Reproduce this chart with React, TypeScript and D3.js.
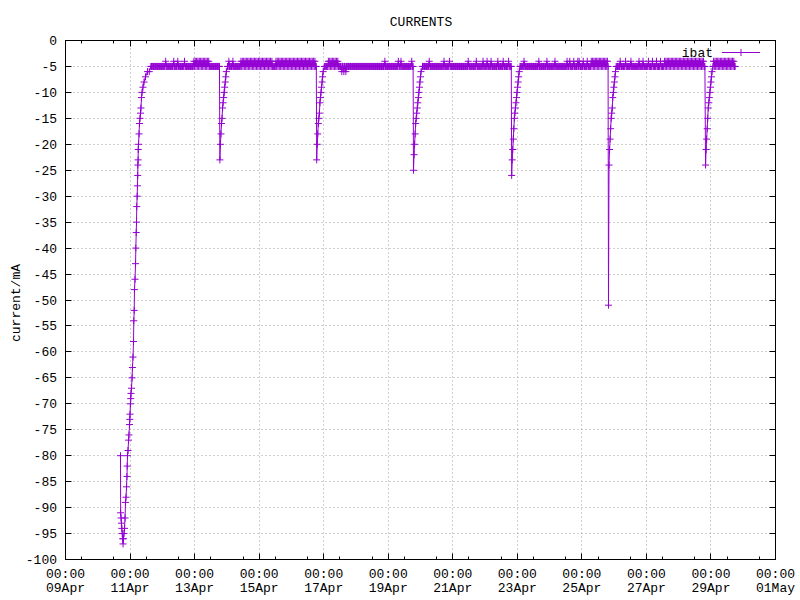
import React from "react";
import * as d3 from "d3";

// ---------- data ----------
const T0 = Date.UTC(2021, 3, 9); // 09Apr 00:00
const HOUR = 3600 * 1000;

// initial charge (hours since 09Apr 00:00, mA)
const chargeHours = [40.9, 41.0, 41.3, 41.6, 41.9, 42.2, 42.5, 42.8, 43.1, 43.5, 43.9, 44.3, 44.6, 45.0, 45.4, 45.7, 45.9, 46.1, 46.5, 46.9, 47.2, 47.6, 47.8, 48.0, 48.3, 48.5, 48.7, 49.1, 49.5, 49.8, 50.2, 50.6, 50.8, 51.1, 51.3, 51.7, 52.1, 52.3, 52.6, 52.8, 53.0, 53.3, 53.5, 53.7, 53.8, 54.0, 54.1, 54.3, 54.7, 55.0, 55.4, 55.8, 56.1, 56.5, 56.9, 57.6, 58.4, 59.5, 61.0, 62.3];
const chargeValues = [-80, -91, -92, -93, -94, -95, -96, -97, -96, -95, -94, -92, -89, -88, -86, -84, -82, -80, -79, -77, -76, -74, -73, -72, -70, -69, -68, -67, -65, -63, -61, -58, -54, -52, -48, -46, -43, -40, -37, -35, -32, -30, -28, -26, -24, -23, -21, -20, -18, -16, -15, -14, -13, -11, -10, -9, -8, -7, -6, -6];

// current dips (sampled every 0.4 h from start)
const DIP_STEP_HOURS = 0.4;
const dipStartHours = [114.8, 186.8, 258.8, 331.8, 403.8, 476.0];
const dip1 = [-23, -20, -18, -16, -15, -13, -12, -11, -10, -9, -8, -7, -6];
const dip2 = [-23, -20, -18, -16, -15, -14, -12, -11, -10, -9, -8, -7, -6];
const dip3 = [-25, -22, -20, -18, -16, -15, -14, -13, -12, -11, -10, -9, -8, -7, -6];
const dip4 = [-26, -23, -21, -19, -17, -15, -14, -13, -12, -11, -10, -9, -8, -7, -6];
const dip5 = [-51, -24, -21, -19, -17, -15, -14, -13, -11, -10, -9, -8, -7, -6];
const dip6 = [-24, -21, -19, -17, -15, -13, -12, -11, -10, -9, -8, -7, -6];
const dipValues = [dip1, dip2, dip3, dip4, dip5, dip6];

// steady periods (sampled every half hour from start)
const FLAT_STEP_HOURS = 0.5;
const flatStartHours = [63.5, 120.5, 192.5, 265.5, 338, 409.5, 481.5];
const flat1 = [
  -5, -5, -5, -5, -5, -5, -5, -5, -5, -5,
  -5, -5, -5, -5, -5, -5, -5, -5, -5, -5,
  -5, -5, -4, -5, -5, -5, -5, -5, -5, -5,
  -5, -5, -5, -5, -4, -5, -5, -5, -5, -5,
  -4, -5, -5, -5, -5, -5, -5, -5, -5, -5,
  -4, -5, -5, -5, -5, -5, -5, -5, -5, -5,
  -5, -5, -5, -5, -4, -5, -4, -5, -4, -5,
  -4, -5, -4, -5, -4, -5, -4, -5, -4, -5,
  -4, -5, -4, -5, -4, -5, -4, -5, -5, -5,
  -5, -5, -5, -5, -5, -5, -5, -5, -5, -5,
  -5, -5, -5];
const flat2 = [
  -5, -5, -4, -5, -5, -5, -5, -5, -4, -5,
  -5, -5, -5, -5, -5, -5, -5, -5, -5, -5,
  -4, -5, -4, -5, -4, -5, -4, -5, -4, -5,
  -4, -5, -4, -5, -4, -5, -4, -5, -4, -5,
  -4, -5, -4, -5, -4, -5, -4, -5, -4, -5,
  -4, -5, -4, -5, -4, -5, -4, -5, -4, -5,
  -4, -5, -4, -5, -4, -5, -4, -5, -5, -5,
  -5, -5, -4, -5, -4, -5, -4, -5, -4, -5,
  -4, -5, -4, -5, -4, -5, -4, -5, -4, -5,
  -4, -5, -4, -5, -4, -5, -4, -5, -4, -5,
  -4, -5, -4, -5, -4, -5, -4, -5, -4, -5,
  -4, -5, -4, -5, -4, -5, -4, -5, -4, -5,
  -4, -5, -4, -5, -4, -5, -4, -5, -4, -5,
  -4, -5, -5];
const flat3 = [
  -5, -5, -5, -5, -5, -5, -4, -5, -4, -5,
  -4, -5, -4, -5, -4, -5, -4, -5, -4, -5,
  -4, -5, -5, -5, -5, -5, -6, -5, -5, -6,
  -5, -5, -6, -5, -5, -5, -5, -5, -5, -5,
  -5, -5, -5, -5, -5, -5, -5, -5, -5, -5,
  -5, -5, -5, -5, -5, -5, -5, -5, -5, -5,
  -5, -5, -5, -5, -5, -5, -5, -5, -5, -5,
  -5, -5, -5, -5, -5, -5, -5, -5, -5, -5,
  -5, -5, -5, -5, -5, -5, -5, -5, -5, -5,
  -4, -5, -5, -5, -5, -5, -5, -5, -5, -5,
  -5, -5, -5, -5, -5, -5, -5, -5, -5, -5,
  -4, -5, -5, -5, -4, -5, -5, -5, -5, -5,
  -5, -5, -5, -5, -5, -5, -5, -5, -5, -5,
  -4, -5, -5];
const flat4 = [
  -5, -5, -5, -5, -5, -5, -5, -5, -5, -5,
  -4, -5, -5, -5, -5, -5, -5, -5, -5, -5,
  -5, -5, -5, -5, -5, -5, -5, -5, -5, -5,
  -5, -5, -4, -5, -5, -5, -5, -5, -5, -5,
  -4, -5, -5, -5, -5, -5, -5, -5, -5, -5,
  -5, -5, -5, -5, -5, -5, -5, -5, -5, -5,
  -5, -5, -5, -5, -5, -5, -5, -5, -4, -5,
  -5, -5, -5, -5, -5, -5, -5, -5, -5, -5,
  -4, -5, -5, -5, -5, -5, -5, -5, -5, -5,
  -4, -5, -5, -5, -5, -5, -4, -5, -5, -5,
  -5, -5, -4, -5, -5, -5, -5, -5, -5, -5,
  -5, -5, -4, -5, -5, -5, -5, -5, -5, -5,
  -4, -5, -5, -5, -5, -5, -5, -5, -4, -5,
  -5, -5, -5];
const flat5 = [
  -5, -5, -5, -5, -5, -5, -4, -5, -5, -5,
  -5, -5, -5, -5, -5, -5, -5, -5, -5, -5,
  -5, -5, -5, -5, -5, -5, -5, -5, -4, -5,
  -5, -5, -5, -5, -5, -5, -5, -5, -5, -5,
  -4, -5, -5, -5, -5, -5, -5, -5, -5, -5,
  -5, -5, -4, -5, -5, -5, -5, -5, -5, -5,
  -5, -5, -5, -5, -5, -5, -5, -5, -5, -5,
  -4, -5, -5, -5, -4, -5, -5, -5, -5, -5,
  -4, -5, -5, -5, -5, -5, -4, -5, -4, -5,
  -5, -5, -5, -5, -4, -5, -5, -5, -5, -5,
  -4, -5, -5, -5, -5, -5, -4, -5, -4, -5,
  -4, -5, -4, -5, -4, -5, -4, -5, -4, -5,
  -4, -5, -4, -5, -4, -5, -4, -5, -4, -5,
  -4, -5];
const flat6 = [
  -5, -5, -5, -5, -5, -5, -4, -5, -5, -5,
  -5, -5, -5, -5, -4, -5, -5, -5, -5, -5,
  -5, -5, -4, -5, -5, -5, -5, -5, -5, -5,
  -5, -5, -5, -5, -4, -5, -5, -5, -5, -5,
  -4, -5, -5, -5, -5, -5, -5, -5, -4, -5,
  -5, -5, -5, -5, -4, -5, -5, -5, -5, -5,
  -4, -5, -5, -5, -5, -5, -4, -5, -5, -5,
  -5, -5, -4, -5, -4, -5, -4, -5, -4, -5,
  -4, -5, -4, -5, -4, -5, -4, -5, -4, -5,
  -4, -5, -4, -5, -4, -5, -4, -5, -4, -5,
  -4, -5, -4, -5, -4, -5, -4, -5, -4, -5,
  -4, -5, -4, -5, -4, -5, -4, -5, -4, -5,
  -4, -5, -4, -5, -4, -5, -4, -5, -4, -5,
  -4, -5, -5];
const flat7 = [
  -5, -4, -5, -4, -5, -4, -5, -4, -5, -4,
  -5, -4, -5, -4, -5, -4, -5, -4, -5, -4,
  -5, -4, -5, -4, -5, -4, -5, -4, -5, -4,
  -5, -4, -5, -5];
const flatValues = [flat1, flat2, flat3, flat4, flat5, flat6, flat7];

// axis ticks
const yTickValues = [0, -5, -10, -15, -20, -25, -30, -35, -40, -45, -50, -55, -60, -65, -70, -75, -80, -85, -90, -95, -100];
const xTickDates = [
  "2021-04-09", "2021-04-11", "2021-04-13", "2021-04-15", "2021-04-17", "2021-04-19",
  "2021-04-21", "2021-04-23", "2021-04-25", "2021-04-27", "2021-04-29", "2021-05-01",
];

const TITLE = "CURRENTS";
const Y_LABEL = "current/mA";
const SERIES_NAME = "ibat";

// ---------- layout ----------
const W = 800;
const H = 600;
const L = 65.5, R = 775.5, T = 40.5, B = 559.5;
const COLOR = "#9400d3";
const FONT = "'Liberation Mono', 'DejaVu Sans Mono', monospace";

type Pt = { t: Date; v: number };

function buildPoints(): Pt[] {
  const pts: { h: number; v: number }[] = [];
  chargeHours.forEach((h, i) => pts.push({ h, v: chargeValues[i] }));
  flatStartHours.forEach((s, k) =>
    flatValues[k].forEach((v, i) => pts.push({ h: s + i * FLAT_STEP_HOURS, v }))
  );
  dipStartHours.forEach((s, k) =>
    dipValues[k].forEach((v, i) => pts.push({ h: s + i * DIP_STEP_HOURS, v }))
  );
  pts.sort((a, b) => a.h - b.h);
  return pts.map((p) => ({ t: new Date(T0 + p.h * HOUR), v: p.v }));
}

export default function App() {
  const xTicks = xTickDates.map((s) => new Date(s + "T00:00:00Z"));
  const x = d3.scaleUtc().domain([xTicks[0], xTicks[xTicks.length - 1]]).range([L, R]);
  const y = d3.scaleLinear().domain([-100, 0]).range([B, T]);
  const minorTicks = d3.utcHour
    .every(12)!
    .range(xTicks[0], xTicks[xTicks.length - 1])
    .filter((d) => d.getUTCHours() !== 0);

  const points = buildPoints();
  const line = d3
    .line<Pt>()
    .x((d) => x(d.t))
    .y((d) => y(d.v));
  const ms = 3.5;
  const markers = points
    .map((d) => {
      const px = x(d.t), py = y(d.v);
      return `M${px - ms},${py}h${2 * ms}M${px},${py - ms}v${2 * ms}`;
    })
    .join("");

  const fmtTime = d3.utcFormat("%H:%M");
  const fmtDate = d3.utcFormat("%d%b");
  const snap = (v: number) => Math.round(v - 0.5) + 0.5;

  const legY = 52.5;

  return (
    <svg width={W} height={H} style={{ display: "block", position: "absolute", left: 0, top: 0, background: "#fff" }}
      fontFamily={FONT} fontSize={13}>
      <rect x={0} y={0} width={W} height={H} fill="#fff" />
      {/* grid */}
      <g stroke="#a0a0a0" strokeWidth={1} strokeDasharray="1 3">
        {yTickValues.filter((v) => v !== 0 && v !== -100).map((v) => (
          <line key={"gy" + v} x1={L} x2={R} y1={snap(y(v))} y2={snap(y(v))} />
        ))}
        {xTicks.slice(1, -1).map((d, i) => (
          <line key={"gx" + i} x1={snap(x(d))} x2={snap(x(d))} y1={T} y2={B} />
        ))}
      </g>
      {/* data */}
      <path d={line(points) || ""} fill="none" stroke={COLOR} strokeWidth={1} />
      <path d={markers} fill="none" stroke={COLOR} strokeWidth={1} />
      {/* border and ticks */}
      <g stroke="#000" strokeWidth={1} fill="none">
        <rect x={L} y={T} width={R - L} height={B - T} />
        {yTickValues.map((v) => (
          <g key={"ty" + v}>
            <line x1={L} x2={L + 6} y1={snap(y(v))} y2={snap(y(v))} />
            <line x1={R - 6} x2={R} y1={snap(y(v))} y2={snap(y(v))} />
          </g>
        ))}
        {xTicks.map((d, i) => (
          <g key={"tx" + i}>
            <line x1={snap(x(d))} x2={snap(x(d))} y1={B} y2={B - 6} />
            <line x1={snap(x(d))} x2={snap(x(d))} y1={T} y2={T + 6} />
          </g>
        ))}
        {minorTicks.map((d, i) => (
          <g key={"mx" + i}>
            <line x1={snap(x(d))} x2={snap(x(d))} y1={B} y2={B - 3} />
            <line x1={snap(x(d))} x2={snap(x(d))} y1={T} y2={T + 3} />
          </g>
        ))}
      </g>
      {/* tick labels */}
      <g fill="#000">
        {yTickValues.map((v) => (
          <text key={"ly" + v} x={57} y={y(v) + 4.5} textAnchor="end">{String(v)}</text>
        ))}
        {xTicks.map((d, i) => (
          <g key={"lx" + i}>
            <text x={x(d)} y={578} textAnchor="middle">{fmtTime(d)}</text>
            <text x={x(d)} y={592} textAnchor="middle">{fmtDate(d)}</text>
          </g>
        ))}
        <text x={421} y={26} textAnchor="middle">{TITLE}</text>
        <text transform="translate(20,303) rotate(-90)" textAnchor="middle">{Y_LABEL}</text>
        <text x={713} y={legY + 4.5} textAnchor="end">{SERIES_NAME}</text>
      </g>
      {/* legend sample */}
      <g stroke={COLOR} strokeWidth={1} fill="none">
        <line x1={722} x2={760} y1={legY} y2={legY} />
        <path d={`M${741 - ms},${legY}h${2 * ms}M${741},${legY - ms}v${2 * ms}`} />
      </g>
    </svg>
  );
}
